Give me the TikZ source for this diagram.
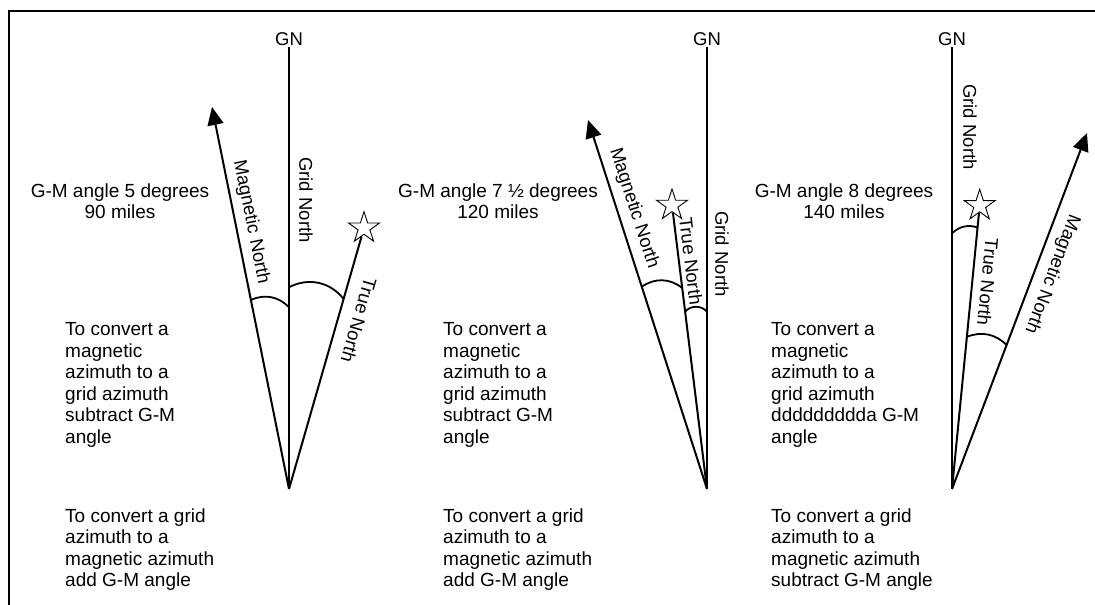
\documentclass[tikz,border=0pt]{standalone}
\usepackage{fontspec}
\setmainfont{Liberation Sans}
\usepackage{tikz}
\usetikzlibrary{arrows.meta,calc,shapes.geometric}
\definecolor{ink}{HTML}{000000}
\tikzset{
  frame/.style ={draw=ink, line width=2.4pt},
  ray/.style   ={draw=ink, line width=2pt},
  magray/.style={-{Triangle[length=18pt,width=16pt]}, draw=ink,
                 line width=2pt},
  sweep/.style ={draw=ink, line width=1.8pt},
  starn/.style ={star, star points=5, star point ratio=2.618, draw=ink,
                 line width=0.9pt, fill=white, minimum size=32.6pt,
                 inner sep=0pt},
  lbl/.style   ={font=\fontsize{18.5}{21}\selectfont, text=ink,
                 inner sep=0pt},
  txt/.style   ={font=\fontsize{19}{21.5}\selectfont, text=ink,
                 inner sep=0pt, align=left, anchor=west},
  info/.style  ={font=\fontsize{19}{21.5}\selectfont, text=ink,
                 inner sep=0pt, align=center}
}
\begin{document}
\begin{tikzpicture}[x=1pt,y=1pt]
\useasboundingbox (0,0) rectangle (1095,605);
\draw[frame] (9,0) -- (9,594) -- (1095,594);

\coordinate (v1) at (289,116);
\coordinate (m1) at (212,498);
\node[lbl, anchor=south, inner sep=1.5pt] (gn1) at (289,557.5) {GN};
\node[starn] (s1) at (364,377) {};
\draw[ray] (v1) -- (gn1);
\draw[magray] (v1) -- (m1);
\draw[ray] (v1) -- (s1);
\draw[sweep] ($(v1)!0.495!(m1)$) to[bend left=35] ($(v1)+(0,181.7)$);
\draw[sweep] ($(v1)+(0,201.7)$) to[bend left=40] ($(v1)!0.728!(s1)$);
\node[lbl, rotate=-78.6] (mn1) at (251,383) {Magnetic North};
\node[lbl, rotate=-90] (gr1) at (306,405) {Grid North};
\node[lbl, rotate=-106] (tn1) at (359,285) {True North};
\node[info] (ga1) at (120,404) {G-M angle 5 degrees\\90 miles};
\node[txt] (mg1) at (65,220) {To convert a\\magnetic\\azimuth to a\\grid azimuth\\subtract G-M\\angle};
\node[txt] (gm1) at (65,55.5) {To convert a grid\\azimuth to a\\magnetic azimuth\\add G-M angle};

\coordinate (v2) at (707,116);
\coordinate (m2) at (588,485);
\node[lbl, anchor=south, inner sep=1.5pt] (gn2) at (707,557.5) {GN};
\node[starn] (s2) at (672,399.7) {};
\draw[ray] (v2) -- (gn2);
\draw[magray] (v2) -- (m2);
\draw[ray] (v2) -- (s2);
\draw[sweep] ($(v2)!0.548!(m2)$) to[bend left=37] ($(v2)!0.7085!(s2)$);
\draw[sweep] ($(v2)!0.625!(s2)$) to[bend left=50] ($(v2)+(0,177.3)$);
\node[lbl, rotate=-72.1] (mn2) at (634,396.5) {Magnetic North};
\node[lbl, rotate=-83] (tn2) at (691,344) {True North};
\node[lbl, rotate=-90] (gr2) at (722,351) {Grid North};
\node[info] (ga2) at (498,404) {G-M angle 7 ½ degrees\\120 miles};
\node[txt] (mg2) at (443,220) {To convert a\\magnetic\\azimuth to a\\grid azimuth\\subtract G-M\\angle};
\node[txt] (gm2) at (443,55.5) {To convert a grid\\azimuth to a\\magnetic azimuth\\add G-M angle};

\coordinate (v3) at (952,116);
\coordinate (m3) at (1087,472);
\node[lbl, anchor=south, inner sep=1.5pt] (gn3) at (952,557.5) {GN};
\node[starn] (s3) at (979.7,399.4) {};
\draw[ray] (v3) -- (gn3);
\draw[magray] (v3) -- (m3);
\draw[ray] (v3) -- (s3);
\draw[sweep] ($(v3)+(0,255.7)$) to[bend left=30] ($(v3)!0.923!(s3)$);
\draw[sweep] ($(v3)!0.537!(s3)$) to[bend left=33] ($(v3)!0.4045!(m3)$);
\node[lbl, rotate=-90] (gr3) at (970,478) {Grid North};
\node[lbl, rotate=-95.6] (tn3) at (988,323) {True North};
\node[lbl, rotate=-110.8] (mn3) at (1052,331) {Magnetic North};
\node[info] (ga3) at (844,404) {G-M angle 8 degrees\\140 miles};
\node[txt] (mg3) at (771,220) {To convert a\\magnetic\\azimuth to a\\grid azimuth\\ddddddddda G-M\\angle};
\node[txt] (gm3) at (771,55.5) {To convert a grid\\azimuth to a\\magnetic azimuth\\subtract G-M angle};
\end{tikzpicture}
\end{document}
